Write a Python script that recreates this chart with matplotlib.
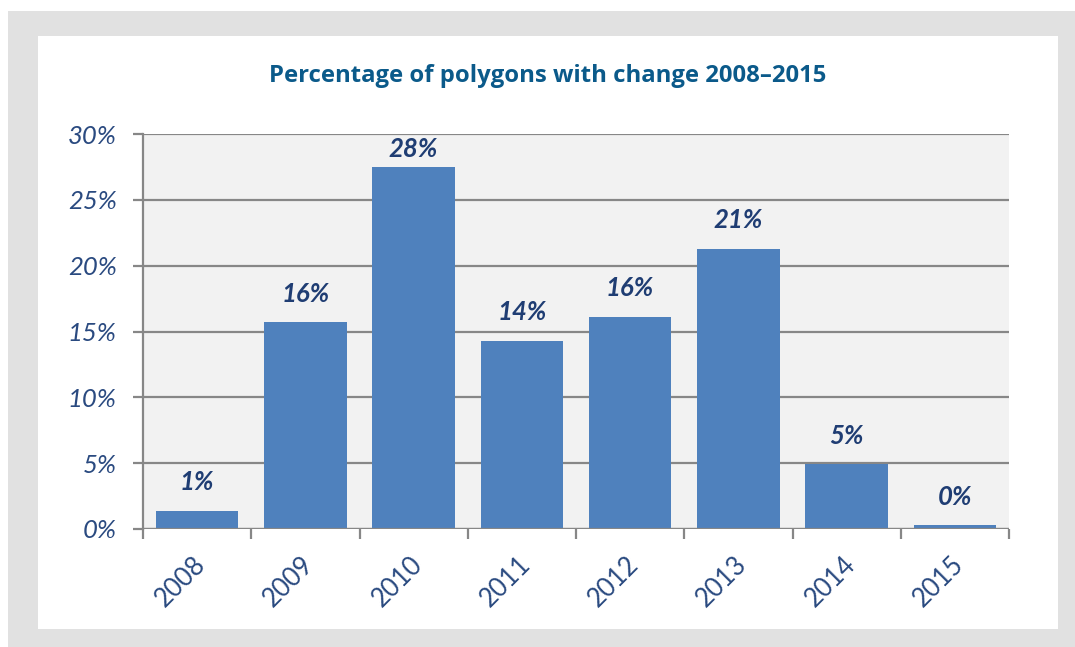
import matplotlib.pyplot as plt
from matplotlib.patches import Rectangle
from matplotlib.ticker import FixedLocator, FuncFormatter
from matplotlib import transforms

years = ["2008", "2009", "2010", "2011", "2012", "2013", "2014", "2015"]
values = [1.4, 15.7, 27.5, 14.3, 16.1, 21.3, 4.9, 0.3]
labels = ["1%", "16%", "28%", "14%", "16%", "21%", "5%", "0%"]
title = "Percentage of polygons with change 2008\u20132015"

W, H = 1075, 647
fig = plt.figure(figsize=(W / 100, H / 100), dpi=100)
fig.patch.set_facecolor("white")

# grey frame and white card behind the chart
fig.add_artist(Rectangle((8 / W, 0), 1 - 8 / W, 1 - 11 / H, transform=fig.transFigure,
                         facecolor="#e1e1e1", edgecolor="none", zorder=-10))
fig.add_artist(Rectangle((38 / W, 1 - 629 / H), (1058 - 38) / W, (629 - 36) / H,
                         transform=fig.transFigure, facecolor="white", edgecolor="none", zorder=-9))

ax = fig.add_axes([143 / W, 1 - 529 / H, (1009 - 143) / W, (529 - 134) / H])
ax.set_facecolor("#f2f2f2")

x = list(range(len(years)))
ax.bar(x, values, width=0.76, color="#4f81bd", zorder=3)

navy = "#1f3d73"
ymax = 30
for xi, v, lab in zip(x, values, labels):
    # keep labels inside the plot area like Excel does
    ypos = min(v + 1.56, ymax - 1.75)
    ax.text(xi, ypos, lab, ha="center", va="baseline", fontsize=18.5, fontweight="bold",
            fontstyle="italic", color=navy, family="Lato", zorder=4)

ax.set_xlim(-0.5, len(years) - 0.5)
ax.set_ylim(0, ymax)
ax.set_yticks([0, 5, 10, 15, 20, 25, 30])
ax.yaxis.set_major_formatter(FuncFormatter(lambda v, p: f"{v:.0f}%"))
ax.grid(axis="y", color="#878787", linewidth=1.6, zorder=1)

for s in ["top", "right", "bottom"]:
    ax.spines[s].set_visible(False)
ax.spines["left"].set_color("#878787")
ax.spines["left"].set_linewidth(1.6)
ax.axhline(0, color="#878787", linewidth=1.6, zorder=5)

ax.tick_params(axis="y", length=7, width=1.6, color="#878787", pad=12,
               labelsize=18.5, labelcolor="#2a4a80")
for t in ax.get_yticklabels():
    t.set_fontstyle("italic")
    t.set_family("Lato")

ax.set_xticks(x)
ax.set_xticklabels(years)
ax.xaxis.set_minor_locator(FixedLocator([i - 0.5 for i in range(len(years) + 1)]))
ax.tick_params(axis="x", which="major", length=0, pad=16, labelsize=18.5, labelcolor="#2a4a80")
ax.tick_params(axis="x", which="minor", length=7, width=1.6, color="#878787")
offset = transforms.ScaledTranslation(-3 / 72, 0, fig.dpi_scale_trans)
for t in ax.get_xticklabels():
    t.set_rotation(45)
    t.set_ha("right")
    t.set_va("top")
    t.set_rotation_mode("anchor")
    t.set_family("Lato")
    t.set_transform(t.get_transform() + offset)

fig.text((270 + 826) / 2 / W, 1 - 76 / H, title, ha="center", va="center",
         fontsize=17.2, fontweight="bold", color="#0b5a8a", family="Open Sans")

fig.savefig("out.png", dpi=100)
